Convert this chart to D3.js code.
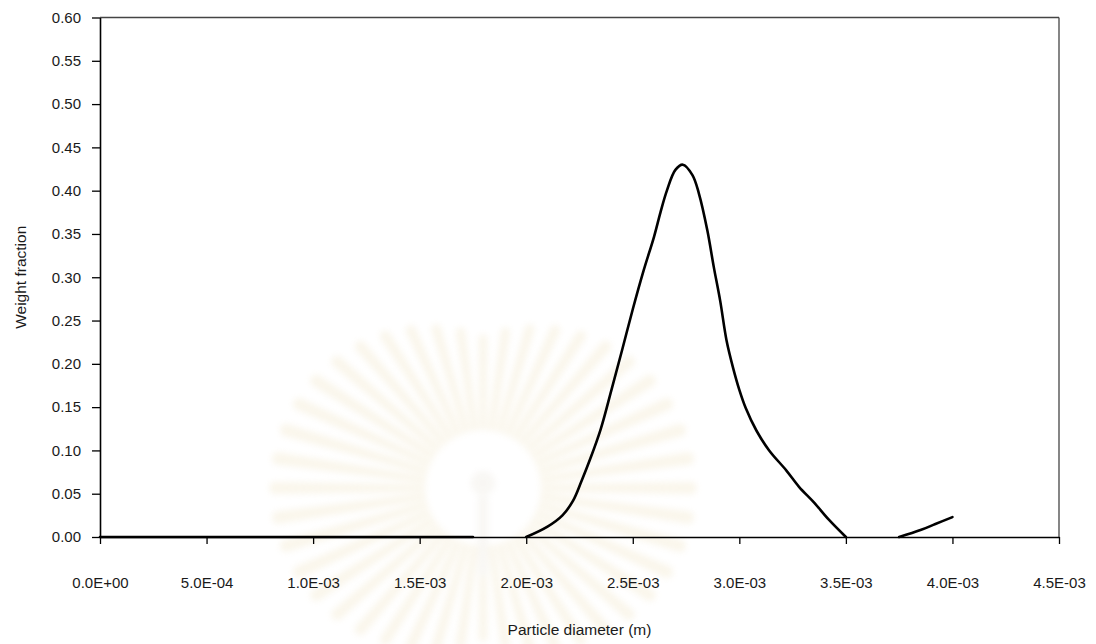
<!DOCTYPE html>
<html>
<head>
<meta charset="utf-8">
<script src="https://cdn.jsdelivr.net/npm/d3@7/dist/d3.min.js"></script>
<style>
  html, body { margin: 0; padding: 0; background: #ffffff; }
  svg { display: block; }
  text { font-family: "Liberation Sans", Arial, sans-serif; fill: #1a1a1a; }
</style>
</head>
<body>
<svg id="chart" width="1096" height="644"></svg>
<script>
// Particle size distribution: diameter (m) vs weight fraction.
// Each run is drawn as its own line segment.
const flatDiameters = [0, 0.25e-3, 0.5e-3, 0.75e-3, 1.0e-3, 1.25e-3, 1.5e-3, 1.75e-3];
const flatFractions = [0, 0, 0, 0, 0, 0, 0, 0];

const peakDiameters = [2.00e-3, 2.10e-3, 2.17e-3, 2.22e-3, 2.26e-3, 2.30e-3, 2.35e-3, 2.40e-3,
  2.45e-3, 2.50e-3, 2.55e-3, 2.60e-3, 2.63e-3, 2.66e-3, 2.70e-3, 2.735e-3, 2.78e-3, 2.81e-3,
  2.85e-3, 2.88e-3, 2.91e-3, 2.94e-3, 2.97e-3, 3.00e-3, 3.03e-3, 3.08e-3, 3.14e-3, 3.22e-3,
  3.28e-3, 3.35e-3, 3.42e-3, 3.50e-3];
const peakFractions = [0.000, 0.012, 0.025, 0.042, 0.065, 0.090, 0.125, 0.170,
  0.216, 0.263, 0.307, 0.347, 0.375, 0.400, 0.424, 0.430, 0.418, 0.397,
  0.354, 0.312, 0.273, 0.227, 0.196, 0.170, 0.149, 0.123, 0.100, 0.077,
  0.058, 0.040, 0.020, 0.000];

const tailDiameters = [3.75e-3, 3.85e-3, 3.92e-3, 4.0e-3];
const tailFractions = [0.000, 0.008, 0.015, 0.023];

const xTicks = [0, 0.5e-3, 1.0e-3, 1.5e-3, 2.0e-3, 2.5e-3, 3.0e-3, 3.5e-3, 4.0e-3, 4.5e-3];
const xTickLabels = ["0.0E+00", "5.0E-04", "1.0E-03", "1.5E-03", "2.0E-03", "2.5E-03", "3.0E-03", "3.5E-03", "4.0E-03", "4.5E-03"];
const yTicks = [0, 0.05, 0.10, 0.15, 0.20, 0.25, 0.30, 0.35, 0.40, 0.45, 0.50, 0.55, 0.60];

const xTitle = "Particle diameter (m)";
const yTitle = "Weight fraction";

const svg = d3.select("#chart");
const margin = { left: 100, top: 17.5, right: 1096 - 1059, bottom: 644 - 537 };
const W = 1096, H = 644;
const x = d3.scaleLinear().domain([0, 4.5e-3]).range([margin.left, W - margin.right]);
const y = d3.scaleLinear().domain([0, 0.60]).range([H - margin.bottom, margin.top]);

// Faint emblem in the background
const defs = svg.append("defs");
defs.append("filter").attr("id", "soft").attr("x", "-20%").attr("y", "-20%").attr("width", "140%").attr("height", "140%")
  .append("feGaussianBlur").attr("stdDeviation", 3);
const emblem = svg.append("g").attr("filter", "url(#soft)").attr("opacity", 0.4);
const cx = 483, cy = 488;
const rays = d3.range(44);
emblem.selectAll("path.ray").data(rays).join("path")
  .attr("class", "ray")
  .attr("fill", "#f3e9cf")
  .attr("d", i => {
    const a = (i / rays.length) * 2 * Math.PI;
    const r0 = 58;
    const r1 = 150 + 60 * Math.abs(Math.cos(a));
    const w = 0.06;
    const p = (r, ang) => [cx + r * Math.cos(ang), cy + r * Math.sin(ang)];
    const [x0, y0] = p(r0, a - w);
    const [x1, y1] = p(r1, a - w * 0.5);
    const [x2, y2] = p(r1 + 8, a);
    const [x3, y3] = p(r1, a + w * 0.5);
    const [x4, y4] = p(r0, a + w);
    return `M${x0},${y0}L${x1},${y1}Q${x2},${y2} ${x3},${y3}L${x4},${y4}Z`;
  });
emblem.append("circle").attr("cx", cx).attr("cy", cy - 5).attr("r", 12).attr("fill", "#efebe3");
emblem.append("rect").attr("x", cx - 5).attr("y", cy + 8).attr("width", 10).attr("height", 80).attr("fill", "#efebe3");

// Plot frame: top and right edges
svg.append("line").attr("x1", x(0)).attr("x2", x(4.5e-3)).attr("y1", y(0.60)).attr("y2", y(0.60))
  .attr("stroke", "#444").attr("stroke-width", 1.3);
svg.append("line").attr("x1", x(4.5e-3)).attr("x2", x(4.5e-3)).attr("y1", y(0.60)).attr("y2", y(0))
  .attr("stroke", "#444").attr("stroke-width", 1.3);

// Axes
const xAxis = d3.axisBottom(x).tickValues(xTicks).tickFormat((d, i) => xTickLabels[i])
  .tickSizeInner(7).tickSizeOuter(0).tickPadding(33);
const gx = svg.append("g").attr("transform", `translate(0,${y(0)})`).call(xAxis);
gx.select(".domain").attr("stroke", "#000").attr("stroke-width", 1.6);
gx.selectAll(".tick line").attr("stroke", "#000").attr("stroke-width", 1.3);
gx.selectAll(".tick text").attr("font-size", 15).attr("fill", "#1a1a1a")
  .attr("font-family", "'Liberation Sans', Arial, sans-serif");

const yAxis = d3.axisLeft(y).tickValues(yTicks).tickFormat(d3.format(".2f"))
  .tickSizeInner(8).tickSizeOuter(0).tickPadding(11);
const gy = svg.append("g").attr("transform", `translate(${x(0)},0)`).call(yAxis);
gy.select(".domain").attr("stroke", "#000").attr("stroke-width", 1.6);
gy.selectAll(".tick line").attr("stroke", "#000").attr("stroke-width", 1.3);
gy.selectAll(".tick text").attr("font-size", 15).attr("fill", "#1a1a1a")
  .attr("font-family", "'Liberation Sans', Arial, sans-serif");

// Axis titles
svg.append("text").attr("x", (x(0) + x(4.5e-3)) / 2).attr("y", 635)
  .attr("text-anchor", "middle").attr("font-size", 15.5).text(xTitle);
svg.append("text").attr("transform", `translate(26,${(y(0) + y(0.6)) / 2}) rotate(-90)`)
  .attr("text-anchor", "middle").attr("font-size", 15.5).text(yTitle);

// Distribution curves
const line = d3.line().x(d => x(d[0])).y(d => y(d[1])).curve(d3.curveCatmullRom.alpha(0.5));
const runs = [
  d3.zip(flatDiameters, flatFractions),
  d3.zip(peakDiameters, peakFractions),
  d3.zip(tailDiameters, tailFractions)
];
svg.append("g").selectAll("path").data(runs).join("path")
  .attr("d", line)
  .attr("fill", "none")
  .attr("stroke", "#000")
  .attr("stroke-width", 2.6)
  .attr("stroke-linejoin", "round")
  .attr("stroke-linecap", "round");
</script>
</body>
</html>
